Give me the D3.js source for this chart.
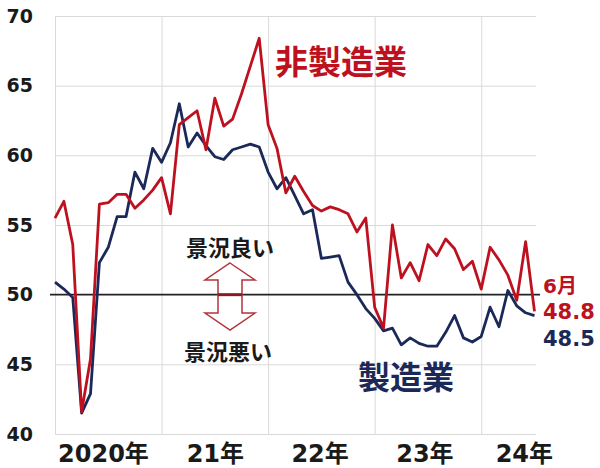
<!DOCTYPE html>
<html><head><meta charset="utf-8">
<script src="https://cdn.jsdelivr.net/npm/d3@7/dist/d3.min.js"></script>
<style>
html,body{margin:0;padding:0;background:#fff;}
svg{display:block;}
</style></head>
<body>
<svg id="chart" width="600" height="468"></svg>
<script>
// ---- data (monthly index 0..54, Jan 2020 .. latest) ----
const yearLabels = ["2020年", "21年", "22年", "23年", "24年"];
const yearStartIndex = [0, 12, 24, 36, 48];
const yTicks = [40, 45, 50, 55, 60, 65, 70];
const nonManufacturing = [
  55.5, 56.7, 53.6, 41.6, 45.4, 56.5, 56.6, 57.2, 57.2, 56.2, 56.8, 57.5,
  58.4, 55.8, 62.2, 62.7, 63.2, 60.4, 64.1, 62.1, 62.6, 64.4, 66.4, 68.4,
  62.2, 60.5, 57.3, 58.5, 57.4, 56.4, 56.0, 56.3, 56.1, 55.8, 54.5, 55.5,
  49.1, 47.6, 55.0, 51.2, 52.3, 51.0, 53.6, 52.8, 54.0, 53.3, 51.8, 52.4,
  50.4, 53.4, 52.5, 51.4, 49.6, 53.8, 48.8
];
const manufacturing = [
  50.9, 50.4, 49.8, 41.5, 42.9, 52.3, 53.4, 55.6, 55.6, 58.8, 57.6, 60.5,
  59.5, 60.9, 63.7, 60.6, 61.6, 60.7, 59.9, 59.7, 60.4, 60.6, 60.8, 60.6,
  58.8, 57.6, 58.4, 57.1, 55.8, 56.1, 52.6, 52.7, 52.8, 50.9, 50.0, 49.0,
  48.3, 47.4, 47.6, 46.4, 46.9, 46.5, 46.3, 46.3, 47.3, 48.5, 46.9, 46.6,
  47.0, 49.1, 47.7, 50.3, 49.2, 48.7, 48.5
];
const seriesNames = ["非製造業", "製造業"];
const latestLabel = "6月";
const boomLabels = ["景況良い", "景況悪い"];
const threshold = 50;

// ---- layout ----
const svg = d3.select("#chart");
const pL = 55, pR = 536, pT = 16, pB = 434;
const x = d3.scaleLinear().domain([0, nonManufacturing.length - 1]).range([55, 534.5]);
const y = d3.scaleLinear().domain([40, 70]).range([pB, pT]);
const RED = "#be1120", NAVY = "#1b2958";
const numFont = "'DejaVu Sans','Noto Sans CJK JP',sans-serif";
const cjkFont = "'Noto Sans CJK JP','DejaVu Sans',sans-serif";

// horizontal grid + y labels
const yAxis = svg.append("g").attr("transform", `translate(${pL},0)`)
  .call(d3.axisLeft(y).tickValues(yTicks).tickSize(-(pR - pL)).tickPadding(22));
yAxis.select(".domain").remove();
yAxis.selectAll(".tick line").attr("stroke", d => d === threshold ? "none" : "#d9d9d9").attr("stroke-width", 1);
yAxis.selectAll(".tick text").attr("font-family", numFont).attr("font-weight", "bold")
  .attr("font-size", 19).attr("fill", "#1a1a1a");

// vertical grid
const xGrid = svg.append("g").attr("transform", `translate(0,${pB})`)
  .call(d3.axisBottom(x).tickValues(yearStartIndex).tickSize(-(pB - pT)).tickFormat(""));
xGrid.select(".domain").remove();
xGrid.selectAll(".tick line").attr("stroke", "#d9d9d9").attr("stroke-width", 1);

// x labels
const labelPos = [5.4, 18, 29.8, 41.6, 52.8];
const xLab = svg.append("g").attr("transform", `translate(0,${pB})`)
  .call(d3.axisBottom(x).tickValues(labelPos).tickSize(0).tickPadding(11)
    .tickFormat((d, i) => yearLabels[i]));
xLab.select(".domain").remove();
xLab.selectAll(".tick text").attr("font-family", numFont).attr("font-weight", "bold")
  .attr("font-size", 24).attr("fill", "#1a1a1a");

// 50 line
svg.append("line").attr("x1", 50).attr("x2", 540).attr("y1", y(threshold)).attr("y2", y(threshold))
  .attr("stroke", "#222").attr("stroke-width", 1.6);

// series
const line = d3.line().x((d, i) => x(i)).y(d => y(d)).curve(d3.curveLinear);
svg.append("path").datum(manufacturing).attr("d", line).attr("fill", "none")
  .attr("stroke", NAVY).attr("stroke-width", 2.8).attr("stroke-linejoin", "round");
svg.append("path").datum(nonManufacturing).attr("d", line).attr("fill", "none")
  .attr("stroke", RED).attr("stroke-width", 2.8).attr("stroke-linejoin", "round");

// series titles
svg.append("text").attr("x", 341).attr("y", 74).attr("text-anchor", "middle")
  .attr("font-family", cjkFont).attr("font-weight", "bold").attr("font-size", 33)
  .attr("fill", RED).text(seriesNames[0]);
svg.append("text").attr("x", 406).attr("y", 389).attr("text-anchor", "middle")
  .attr("font-family", cjkFont).attr("font-weight", "bold").attr("font-size", 32)
  .attr("fill", NAVY).text(seriesNames[1]);

// latest values
const last = nonManufacturing.length - 1;
svg.append("text").attr("x", 543).attr("y", 293).attr("font-family", numFont)
  .attr("font-weight", "bold").attr("font-size", 20).attr("fill", RED).text(latestLabel);
svg.append("text").attr("x", 543).attr("y", 319).attr("font-family", numFont)
  .attr("font-weight", "bold").attr("font-size", 21).attr("fill", RED).text(nonManufacturing[last].toFixed(1));
svg.append("text").attr("x", 543).attr("y", 346).attr("font-family", numFont)
  .attr("font-weight", "bold").attr("font-size", 21).attr("fill", NAVY).text(manufacturing[last].toFixed(1));

// boom labels + arrow
svg.append("text").attr("x", 230).attr("y", 256).attr("text-anchor", "middle")
  .attr("font-family", cjkFont).attr("font-weight", 600).attr("font-size", 22)
  .attr("fill", "#1a1a1a").text(boomLabels[0]);
svg.append("text").attr("x", 228).attr("y", 360).attr("text-anchor", "middle")
  .attr("font-family", cjkFont).attr("font-weight", 600).attr("font-size", 22)
  .attr("fill", "#1a1a1a").text(boomLabels[1]);

const cx = 230, y50 = y(threshold);
const arrow = [
  [cx, 263], [cx + 25, 280], [cx + 12, 280], [cx + 12, 313], [cx + 25, 313],
  [cx, 330], [cx - 25, 313], [cx - 12, 313], [cx - 12, 280], [cx - 25, 280]
];
svg.append("path").attr("d", d3.line()(arrow) + "Z").attr("fill", "#fff")
  .attr("stroke", "#b5343a").attr("stroke-width", 1.5).attr("stroke-linejoin", "miter");
svg.append("line").attr("x1", cx - 12).attr("x2", cx + 12).attr("y1", y50).attr("y2", y50)
  .attr("stroke", "#8a1a1f").attr("stroke-width", 3);
</script>
</body></html>
